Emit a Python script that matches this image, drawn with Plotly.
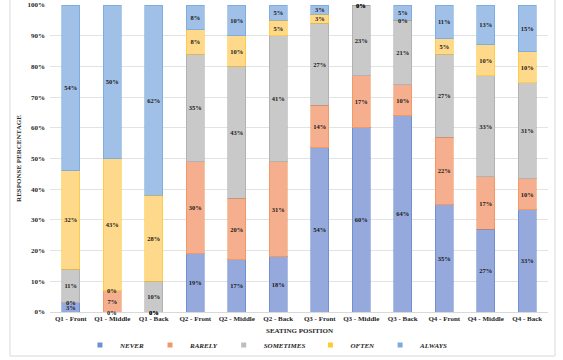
import plotly.graph_objects as go

categories = ["Q1 - Front", "Q1 - Middle", "Q1 - Back",
              "Q2 - Front", "Q2 - Middle", "Q2 - Back",
              "Q3 - Front", "Q3 - Middle", "Q3 - Back",
              "Q4 - Front", "Q4 - Middle", "Q4 - Back"]

never = [3, 0, 0, 19, 17, 18, 54, 60, 64, 35, 27, 33]
rarely = [0, 7, 0, 30, 20, 31, 14, 17, 10, 22, 17, 10]
sometimes = [11, 0, 10, 35, 43, 41, 27, 23, 21, 27, 33, 31]
often = [32, 43, 28, 8, 10, 5, 3, 0, 0, 5, 10, 10]
always = [54, 50, 62, 8, 10, 5, 3, 0, 5, 11, 13, 15]

series_names = ["NEVER", "RARELY", "SOMETIMES", "OFTEN", "ALWAYS"]
series_values = [never, rarely, sometimes, often, always]

y_ticks = [0, 10, 20, 30, 40, 50, 60, 70, 80, 90, 100]
y_tick_labels = [f"{t}%" for t in y_ticks]

x_title = "SEATING POSITION"
y_title = "RESPONSE PERCENTAGE"

fill_colors = ["#96A9DD", "#F5AF8F", "#C9C9C9", "#FFD98B", "#A1C0E8"]
line_colors = ["rgba(68,114,196,0.45)", "rgba(237,125,49,0.45)",
               "rgba(150,150,150,0.45)", "rgba(255,192,0,0.5)",
               "rgba(91,155,213,0.5)"]
legend_colors = ["#6F8FD4", "#EE9A66", "#BDBDBD", "#FFC93A", "#7DA9DB"]

SERIF = "Liberation Serif"
label_font = dict(family=SERIF, size=6.5, color="#1a1a1a", weight=700)
axis_font = dict(family=SERIF, size=7, color="#262626", weight=700)

fig = go.Figure()

for name, vals, fc, lc in zip(series_names, series_values, fill_colors, line_colors):
    fig.add_trace(go.Bar(
        x=categories, y=vals, name=name, legendgroup=name, showlegend=False,
        marker=dict(color=fc, line=dict(color=lc, width=1)),
        text=[f"{v}%" if v != 0 else "" for v in vals],
        textposition="inside", insidetextanchor="middle", textangle=0,
        constraintext="none", textfont=label_font,
        width=0.43,
    ))

# legend entries with small square markers
for name, col in zip(series_names, legend_colors):
    fig.add_trace(go.Scatter(
        x=[None], y=[None], mode="markers", name=name, legendgroup=name,
        marker=dict(symbol="square", size=5, color=col),
    ))

# labels for zero-valued segments, placed at the stack boundary (normalised)
annotations = []
for i, cat in enumerate(categories):
    total = sum(v[i] for v in series_values)
    cum = 0.0
    for vals in series_values:
        if vals[i] == 0:
            annotations.append(dict(
                x=cat, y=cum / total * 100, xref="x", yref="y",
                text="0%", showarrow=False, font=label_font,
            ))
        cum += vals[i]

# x-axis title
annotations.append(dict(
    x=0.5, y=-0.062, xref="paper", yref="paper", xanchor="center", yanchor="middle",
    text=x_title, showarrow=False, font=axis_font,
))

fig.update_layout(
    width=563, height=360,
    margin=dict(l=50, r=15, t=5, b=48, autoexpand=False),
    barmode="stack", barnorm="percent",
    plot_bgcolor="white", paper_bgcolor="white",
    font=dict(family=SERIF, size=7, color="#262626"),
    annotations=annotations,
    legend=dict(
        orientation="h", xref="container", yref="container",
        x=0.142, xanchor="left", y=0.0417, yanchor="middle",
        font=dict(family=SERIF, size=7, color="#262626", weight=700, style="italic"),
        itemwidth=30, bgcolor="rgba(0,0,0,0)",
    ),
    shapes=[dict(type="rect", xref="paper", yref="paper",
                 x0=-0.0803, x1=1.0141, y0=-0.1433, y1=1.2,
                 line=dict(color="#D9D9D9", width=1), layer="below")],
    showlegend=True,
)

fig.update_xaxes(
    type="category", automargin=False,
    showgrid=False, showline=True, linecolor="#D9D9D9", linewidth=1,
    ticks="", tickfont=axis_font,
)
fig.update_yaxes(
    range=[0, 100], automargin=False, tickvals=y_ticks, ticktext=y_tick_labels,
    showgrid=True, gridcolor="#E3E3E3", gridwidth=1, zeroline=False,
    ticks="", ticklabelstandoff=4, tickfont=axis_font,
    title=dict(text=y_title, standoff=5, font=axis_font),
)

fig.write_html("out.html", config={"displayModeBar": False},
               post_script="document.body.style.margin='0';")
